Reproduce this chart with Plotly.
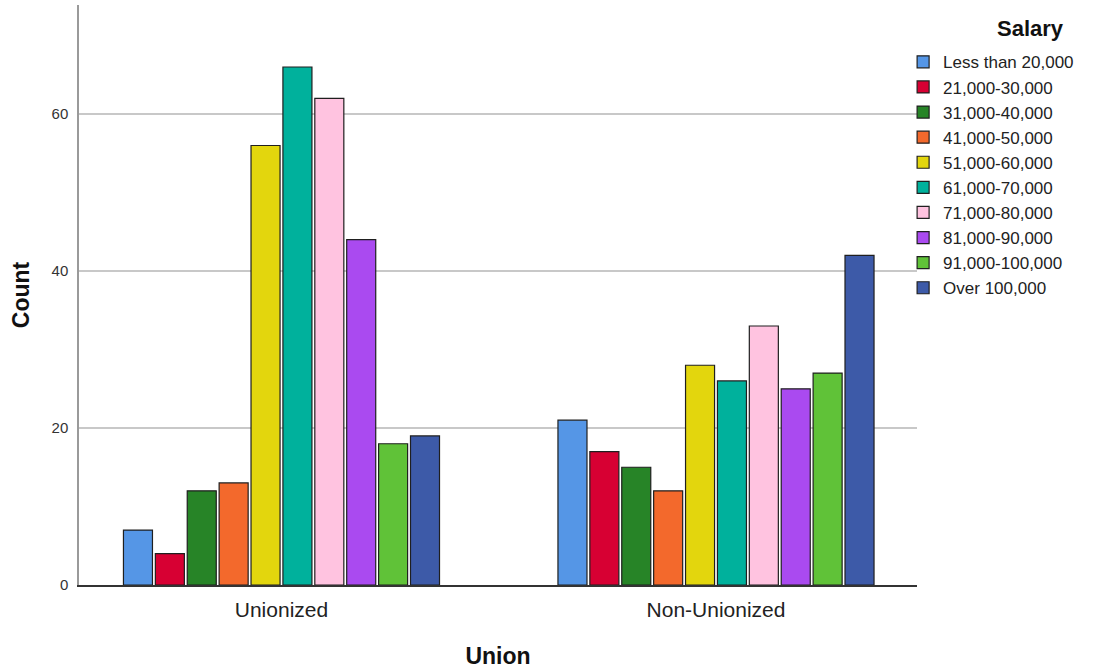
import plotly.graph_objects as go

# Union membership categories on the x axis
unions = ["Unionized", "Non-Unionized"]

# Salary bands (one bar series each)
salary_bands = [
    "Less than 20,000",
    "21,000-30,000",
    "31,000-40,000",
    "41,000-50,000",
    "51,000-60,000",
    "61,000-70,000",
    "71,000-80,000",
    "81,000-90,000",
    "91,000-100,000",
    "Over 100,000",
]

# Counts per salary band: [Unionized, Non-Unionized]
counts_unionized = [7, 4, 12, 13, 56, 66, 62, 44, 18, 19]
counts_non_unionized = [21, 17, 15, 12, 28, 26, 33, 25, 27, 42]

band_colors = [
    "#5596E6", "#D70033", "#278427", "#F3692C", "#E3D60D",
    "#00B19C", "#FFC3E0", "#AA4AF0", "#60C238", "#3D5AA8",
]

y_ticks = [0, 20, 40, 60]

fig = go.Figure()
for band, u, nu, col in zip(salary_bands, counts_unionized, counts_non_unionized, band_colors):
    fig.add_trace(go.Bar(
        name=band,
        x=unions,
        y=[u, nu],
        marker=dict(color=col, line=dict(color="#1f1f1f", width=1.2)),
    ))

fig.update_layout(
    width=1096,
    height=671,
    barmode="group",
    bargap=0.266,
    bargroupgap=0.09,
    plot_bgcolor="white",
    paper_bgcolor="white",
    margin=dict(l=79, r=179, t=5, b=86, autoexpand=False),
    font=dict(family="Liberation Sans, Arial, sans-serif", color="#222222"),
    legend=dict(
        font=dict(size=17, color="#222222"),
        xref="container", yref="container",
        x=0.824, xanchor="left",
        y=0.934, yanchor="top",
        bgcolor="rgba(0,0,0,0)",
        tracegroupgap=0,
    ),
    annotations=[
        dict(
            text="<b>Salary</b>",
            xref="paper", yref="paper",
            x=1.135, y=0.9603,
            xanchor="center", yanchor="middle",
            showarrow=False,
            font=dict(size=22, color="#111111"),
        )
    ],
    xaxis=dict(
        type="category",
        categoryorder="array",
        categoryarray=unions,
        range=[-0.466, 1.4626],
        showline=True,
        linecolor="#333333",
        linewidth=1.5,
        ticks="",
        showgrid=False,
        tickfont=dict(size=21, color="#222222"),
        ticklabelstandoff=5,
        title=dict(text="<b>Union</b>", font=dict(size=23, color="#111111"), standoff=28),
        automargin=False,
    ),
    yaxis=dict(
        range=[0, 73.9],
        tickvals=y_ticks,
        showline=True,
        linecolor="#9a9a9a",
        linewidth=1.5,
        showgrid=True,
        gridcolor="#c8c8c8",
        gridwidth=1.5,
        zeroline=False,
        ticks="",
        tickfont=dict(size=15, color="#333333"),
        ticklabelstandoff=6,
        title=dict(text="<b>Count</b>", font=dict(size=23, color="#111111"), standoff=16),
        automargin=False,
    ),
)

fig.write_html("out.html")
